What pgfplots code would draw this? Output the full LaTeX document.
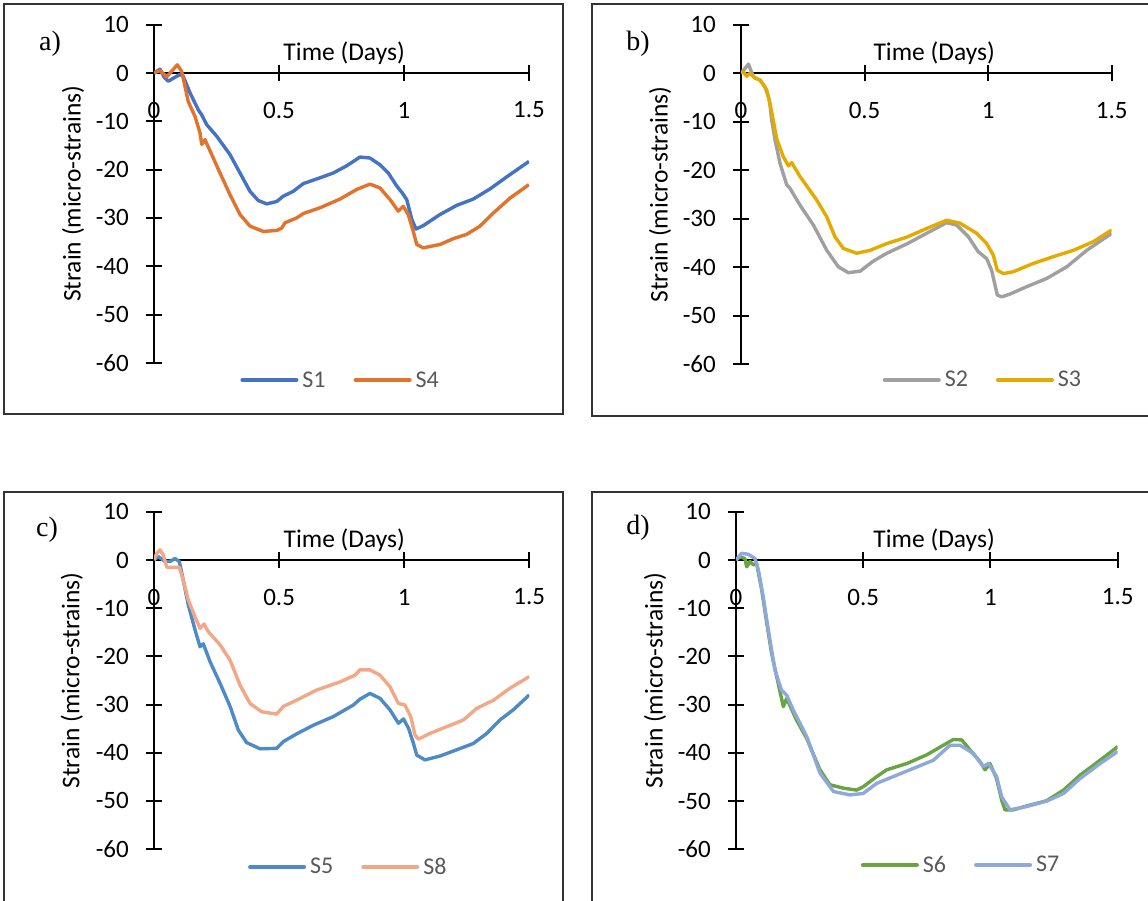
\documentclass[border=0pt]{standalone}
\usepackage{fontspec}
\setmainfont{Carlito}
\newfontfamily\panelfont{Liberation Serif}
\usepackage{pgfplots}
\pgfplotsset{compat=1.18}

\definecolor{cS1}{RGB}{68,114,196}
\definecolor{cS4}{RGB}{226,115,44}
\definecolor{cS2}{RGB}{160,160,160}
\definecolor{cS3}{RGB}{229,170,0}
\definecolor{cS5}{RGB}{78,138,198}
\definecolor{cS8}{RGB}{242,168,135}
\definecolor{cS6}{RGB}{104,165,64}
\definecolor{cS7}{RGB}{143,168,220}
\definecolor{legendgray}{RGB}{89,89,89}

\newcommand\tickfont{\fontsize{25}{30}\selectfont}
\newcommand\labelfont{\fontsize{25.5}{30}\selectfont}
\newcommand\legendfont{\fontsize{24}{28}\selectfont}

\pgfplotsset{
  panel/.style={
    scale only axis,
    axis lines=middle,
    axis line style={-, line width=2pt, black},
    xmin=0, xmax=1.5, ymin=-60, ymax=10,
    xtick={0,0.5,1,1.5},
    ytick={-60,-50,-40,-30,-20,-10,0,10},
    tick align=center,
    major tick length=16pt,
    tick style={line width=2pt, black},
    hide obscured x ticks=false,
    hide obscured y ticks=false,
    /pgf/number format/assume math mode=true,
    tick label style={font=\tickfont, text=black},
    xticklabel style={anchor=center, inner sep=0pt, yshift=-29pt},
    yticklabel style={anchor=east, inner sep=0pt, xshift=-17pt},
    label style={font=\labelfont, text=black},
    xlabel={Time (Days)},
    ylabel={Strain (micro-strains)},
    legend columns=2,
    legend style={draw=none, fill=none, font=\legendfont, text=legendgray,
      inner sep=0pt, nodes={inner sep=0pt},
      /tikz/every odd column/.append style={column sep=4pt},
      /tikz/every even column/.append style={column sep=28pt}},
    legend image code/.code={\draw[#1, line width=4pt, line cap=round] (0pt,0pt) -- (54pt,0pt);},
    every axis plot/.append style={line width=3.4pt, line join=round},
  }
}

\begin{document}
\begin{tikzpicture}
\path[use as bounding box] (0pt,0pt) rectangle (1148pt,-900pt);
\clip (0pt,0pt) rectangle (1148pt,-900pt);

% panel frames
\draw[black!80, line width=1.3pt] (4pt,-4pt) rectangle (563pt,-414pt);
\draw[black!80, line width=1.3pt] (592pt,-4pt) rectangle (1170pt,-416pt);
\draw[black!80, line width=1.3pt] (4pt,-492pt) rectangle (563pt,-920pt);
\draw[black!80, line width=1.3pt] (592pt,-492pt) rectangle (1170pt,-920pt);

% panel letters
\node[font=\panelfont\fontsize{28}{32}\selectfont] at (50pt,-44pt) {a)};
\node[font=\panelfont\fontsize{28}{32}\selectfont] at (638pt,-44pt) {b)};
\node[font=\panelfont\fontsize{28}{32}\selectfont] at (47pt,-530pt) {c)};
\node[font=\panelfont\fontsize{28}{32}\selectfont] at (638pt,-528pt) {d)};

% ---------------- a) S1, S4
\begin{axis}[panel, width=375pt, height=338.1pt,
  at={(154pt,-362.8pt)}, anchor=south west,
  xlabel style={at={(axis description cs:0.507,0.857)}, anchor=base, yshift=12.5pt},
  ylabel style={at={(axis description cs:-0.216,0.5)}, rotate=90, anchor=center},
  legend style={at={(axis description cs:0.495,-0.051)}, anchor=center}]
\addplot[cS1] coordinates {
(0,0) (0.024,0.8) (0.04,-0.8) (0.057,-1.7) (0.08,-1.0) (0.104,-0.3) (0.117,-0.7)
(0.144,-4.1) (0.177,-7.6) (0.19,-8.6) (0.197,-9.3) (0.211,-10.7) (0.251,-13.1)
(0.304,-16.9) (0.344,-20.7) (0.384,-24.5) (0.417,-26.4) (0.451,-27.1) (0.491,-26.6)
(0.517,-25.5) (0.557,-24.5) (0.597,-22.9) (0.664,-21.7) (0.717,-20.7) (0.771,-19.2)
(0.824,-17.4) (0.864,-17.6) (0.904,-19.0) (0.937,-20.7) (0.971,-23.4) (0.991,-24.7)
(1.011,-26.2) (1.031,-30.3) (1.048,-32.3) (1.077,-31.6) (1.144,-29.3) (1.211,-27.4)
(1.277,-26.1) (1.344,-24.0) (1.411,-21.5) (1.5,-18.3)};
\addlegendentry{S1}
\addplot[cS4] coordinates {
(0,0) (0.024,0.5) (0.051,-0.8) (0.093,1.7) (0.111,0.3) (0.124,-2.8) (0.137,-5.9)
(0.164,-9.0) (0.184,-12.4) (0.191,-14.8) (0.204,-13.8) (0.231,-16.9) (0.264,-20.7)
(0.304,-25.2) (0.344,-29.3) (0.384,-31.7) (0.437,-32.8) (0.491,-32.6) (0.511,-32.1)
(0.524,-31.0) (0.571,-30.0) (0.597,-29.1) (0.664,-27.9) (0.744,-26.1) (0.811,-24.1)
(0.864,-23.0) (0.904,-23.8) (0.944,-26.2) (0.977,-28.6) (0.997,-27.6) (1.017,-29.3)
(1.037,-32.8) (1.051,-35.5) (1.077,-36.2) (1.144,-35.5) (1.197,-34.3) (1.251,-33.4)
(1.304,-31.7) (1.357,-29.0) (1.424,-25.9) (1.5,-23.1)};
\addlegendentry{S4}
\end{axis}

% ---------------- b) S2, S3
\begin{axis}[panel, width=370.7pt, height=339.5pt,
  at={(741pt,-364.3pt)}, anchor=south west,
  xlabel style={at={(axis description cs:0.521,0.857)}, anchor=base, yshift=12.5pt},
  ylabel style={at={(axis description cs:-0.2185,0.5)}, rotate=90, anchor=center},
  legend style={at={(axis description cs:0.65,-0.046)}, anchor=center}]
\addplot[cS2] coordinates {
(0,0) (0.03,1.9) (0.05,-0.7) (0.077,-1.4) (0.097,-2.8) (0.115,-5.5) (0.124,-9.6)
(0.138,-13.8) (0.158,-18.6) (0.185,-23.0) (0.198,-23.7) (0.239,-27.2) (0.293,-31.3)
(0.347,-36.5) (0.394,-39.9) (0.434,-41.1) (0.482,-40.8) (0.515,-39.5) (0.536,-38.7)
(0.590,-37.1) (0.670,-35.2) (0.751,-33.0) (0.832,-30.8) (0.873,-31.3) (0.920,-33.7)
(0.960,-36.8) (0.994,-38.2) (1.014,-40.6) (1.037,-45.7) (1.055,-46.1) (1.089,-45.5)
(1.156,-44.0) (1.237,-42.3) (1.318,-39.9) (1.399,-36.5) (1.5,-33.0)};
\addlegendentry{S2}
\addplot[cS3] coordinates {
(0,0) (0.01,0.3) (0.023,-0.6) (0.036,0) (0.057,-1.0) (0.077,-1.4) (0.104,-3.4)
(0.124,-7.9) (0.144,-13.4) (0.171,-17.2) (0.192,-19.1) (0.205,-18.4) (0.239,-21.3)
(0.306,-26.1) (0.347,-29.6) (0.380,-33.7) (0.414,-36.1) (0.468,-37.1) (0.522,-36.5)
(0.590,-35.1) (0.670,-33.8) (0.751,-32.0) (0.832,-30.3) (0.886,-30.9) (0.954,-33.0)
(0.994,-35.1) (1.021,-37.5) (1.037,-40.6) (1.062,-41.3) (1.102,-40.9) (1.183,-39.2)
(1.264,-37.8) (1.345,-36.5) (1.426,-34.7) (1.5,-32.3)};
\addlegendentry{S3}
\end{axis}

% ---------------- c) S5, S8
\begin{axis}[panel, width=375.3pt, height=337.2pt,
  at={(154pt,-849pt)}, anchor=south west,
  xlabel style={at={(axis description cs:0.507,0.857)}, anchor=base, yshift=13pt},
  ylabel style={at={(axis description cs:-0.219,0.5)}, rotate=90, anchor=center},
  legend style={at={(axis description cs:0.515,-0.053)}, anchor=center}]
\addplot[cS5] coordinates {
(0,0) (0.017,0.7) (0.044,-0.3) (0.064,-0.3) (0.084,0.3) (0.101,-0.3) (0.117,-4.2)
(0.137,-9.3) (0.164,-14.5) (0.184,-18.0) (0.197,-17.4) (0.224,-21.1) (0.264,-25.6)
(0.304,-30.4) (0.337,-35.3) (0.370,-37.9) (0.424,-39.2) (0.490,-39.1) (0.517,-37.7)
(0.570,-36.1) (0.637,-34.3) (0.717,-32.5) (0.797,-30.1) (0.823,-28.9) (0.863,-27.7)
(0.903,-28.7) (0.943,-31.1) (0.977,-33.9) (0.997,-33.0) (1.017,-34.9) (1.037,-38.1)
(1.050,-40.5) (1.083,-41.5) (1.143,-40.7) (1.210,-39.4) (1.276,-38.1) (1.330,-36.0)
(1.383,-33.2) (1.436,-31.1) (1.5,-28.0)};
\addlegendentry{S5}
\addplot[cS8] coordinates {
(0,0) (0.011,1.4) (0.024,2.1) (0.037,1.0) (0.051,-1.5) (0.077,-1.5) (0.101,-1.5)
(0.117,-4.2) (0.137,-8.3) (0.164,-11.8) (0.184,-14.2) (0.200,-13.3) (0.217,-14.9)
(0.264,-17.6) (0.304,-20.8) (0.344,-26.0) (0.384,-29.8) (0.430,-31.5) (0.490,-32.0)
(0.517,-30.4) (0.570,-29.1) (0.650,-27.0) (0.744,-25.3) (0.804,-23.9) (0.823,-22.8)
(0.863,-22.8) (0.903,-23.9) (0.943,-26.3) (0.977,-29.8) (1.003,-30.1) (1.026,-32.5)
(1.043,-36.3) (1.057,-37.2) (1.103,-36.0) (1.170,-34.6) (1.237,-33.2) (1.290,-30.8)
(1.357,-29.1) (1.423,-26.6) (1.5,-24.2)};
\addlegendentry{S8}
\end{axis}

% ---------------- d) S6, S7
\begin{axis}[panel, width=381.7pt, height=337.6pt,
  at={(736pt,-849.4pt)}, anchor=south west,
  xlabel style={at={(axis description cs:0.519,0.857)}, anchor=base, yshift=12.7pt},
  ylabel style={at={(axis description cs:-0.212,0.5)}, rotate=90, anchor=center},
  legend style={at={(axis description cs:0.587,-0.046)}, anchor=center}]
\addplot[cS6] coordinates {
(0,0) (0.016,0.7) (0.035,0.3) (0.042,-1.4) (0.055,-0.3) (0.068,-1.0) (0.081,-0.7)
(0.101,-6.2) (0.121,-13.1) (0.140,-19.4) (0.160,-24.2) (0.186,-30.4) (0.199,-28.7)
(0.238,-33.2) (0.278,-37.0) (0.330,-43.5) (0.369,-46.6) (0.422,-47.3) (0.474,-47.7)
(0.500,-47.0) (0.553,-44.9) (0.592,-43.5) (0.671,-42.2) (0.749,-40.4) (0.815,-38.4)
(0.854,-37.2) (0.887,-37.3) (0.920,-39.4) (0.959,-41.8) (0.979,-43.5) (0.998,-42.2)
(1.024,-45.3) (1.044,-49.8) (1.057,-51.8) (1.090,-51.8) (1.142,-51.0) (1.221,-49.9)
(1.287,-47.7) (1.352,-44.6) (1.431,-41.5) (1.5,-38.7)};
\addlegendentry{S6}
\addplot[cS7] coordinates {
(0,0) (0.022,1.4) (0.048,1.2) (0.075,0.3) (0.088,-2.1) (0.107,-7.6) (0.127,-14.5)
(0.153,-22.8) (0.179,-27.0) (0.199,-28.0) (0.225,-31.1) (0.278,-36.6) (0.330,-44.2)
(0.383,-48.0) (0.448,-48.7) (0.500,-48.4) (0.553,-46.3) (0.618,-44.9) (0.697,-43.2)
(0.776,-41.5) (0.841,-38.4) (0.880,-38.4) (0.933,-40.1) (0.972,-42.8) (0.992,-42.2)
(1.024,-44.9) (1.044,-49.1) (1.077,-51.8) (1.142,-51.1) (1.221,-50.0) (1.287,-48.4)
(1.352,-45.3) (1.431,-42.2) (1.5,-39.7)};
\addlegendentry{S7}
\end{axis}
\end{tikzpicture}
\end{document}
